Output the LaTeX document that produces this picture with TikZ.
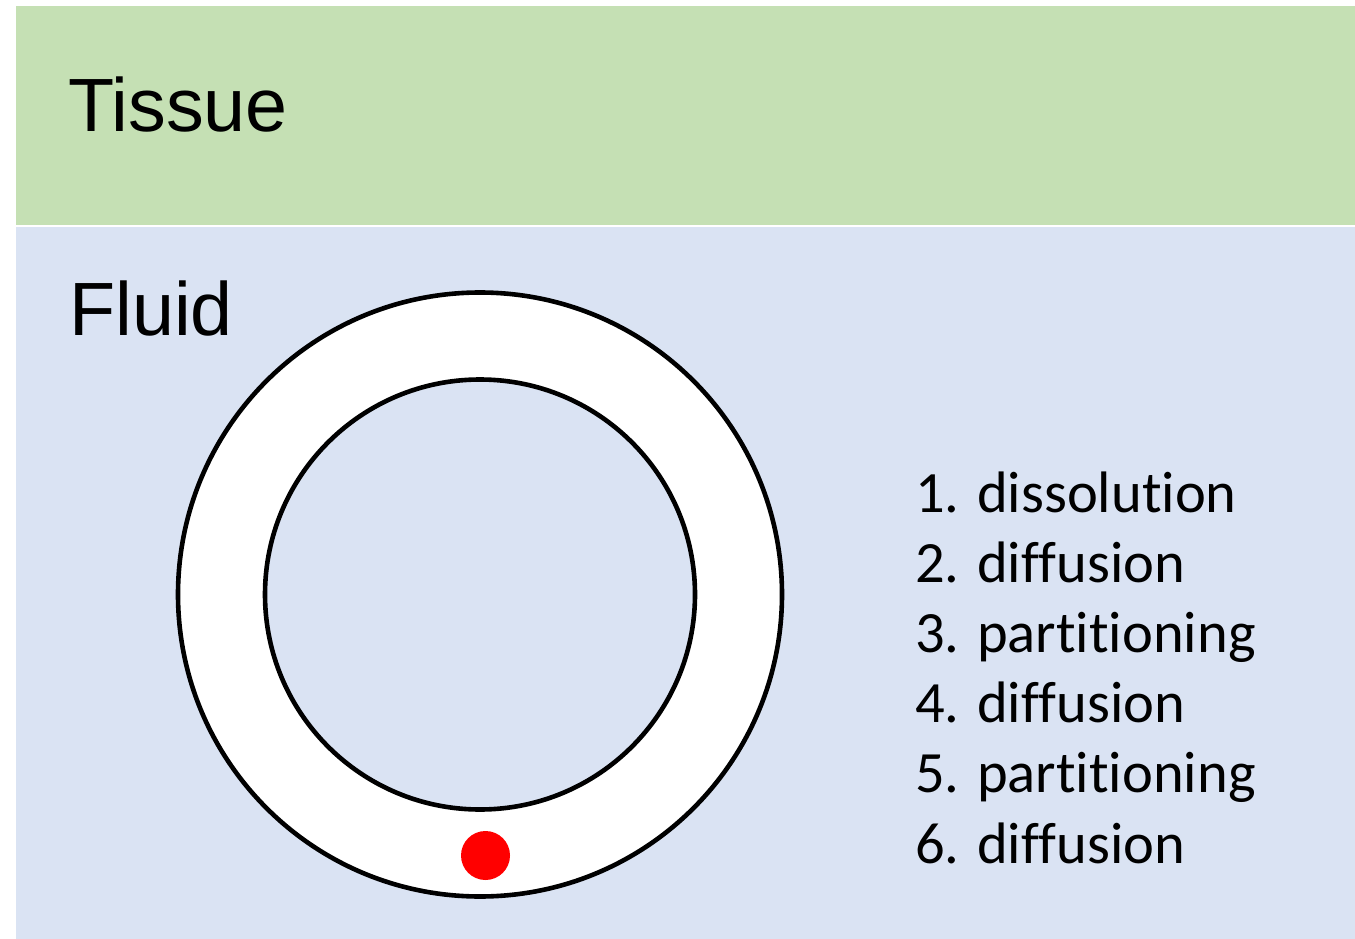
\documentclass[tikz,border=0pt]{standalone}
\usepackage{fontspec}
\setmainfont{Liberation Sans}
\newfontfamily\listfont[Ligatures=NoCommon]{Carlito}
\newcommand\noligti{t\kern0pt i}
\definecolor{tissuegreen}{HTML}{C5E0B4}
\definecolor{fluidblue}{HTML}{DAE3F3}
\definecolor{dotred}{HTML}{FF0000}
\tikzset{
  region/.style={draw=none},
  ring/.style={draw=black, line width=4.6pt},
  bigtitle/.style={anchor=base west, inner sep=0pt, font=\fontsize{75.5}{90}\selectfont},
  listitem/.style={anchor=base west, inner sep=0pt, font=\listfont\fontsize{58.5}{70}\selectfont},
}
\begin{document}
\begin{tikzpicture}[x=1pt,y=-1pt]
\useasboundingbox (0,0) rectangle (1355,939);
\fill[white] (0,0) rectangle (1355,939);
% regions
\fill[tissuegreen, region] (16,6) rectangle (1355,225);
\fill[fluidblue, region] (16,227) rectangle (1355,939);
% labels
\node[bigtitle] (tissue) at (68,132) {Tissue};
\node[bigtitle] (fluid) at (69,335) {Fluid};
% rings
\node[ring, circle, fill=white, minimum size=604pt, inner sep=0pt] (outer) at (480,594.5) {};
\node[ring, circle, fill=fluidblue, minimum size=430pt, inner sep=0pt] (inner) at (480,594.5) {};
\node[circle, fill=dotred, minimum size=49pt, inner sep=0pt] (dot) at (485.5,855.5) {};
% list
\node[listitem] (l1) at (915,512) {1. dissolu\noligti on};
\node[listitem] (l2) at (915,582.2) {2. diffusion};
\node[listitem] (l3) at (915,652.4) {3. par\noligti \noligti oning};
\node[listitem] (l4) at (915,722.6) {4. diffusion};
\node[listitem] (l5) at (915,792.8) {5. par\noligti \noligti oning};
\node[listitem] (l6) at (915,863) {6. diffusion};
\end{tikzpicture}
\end{document}
